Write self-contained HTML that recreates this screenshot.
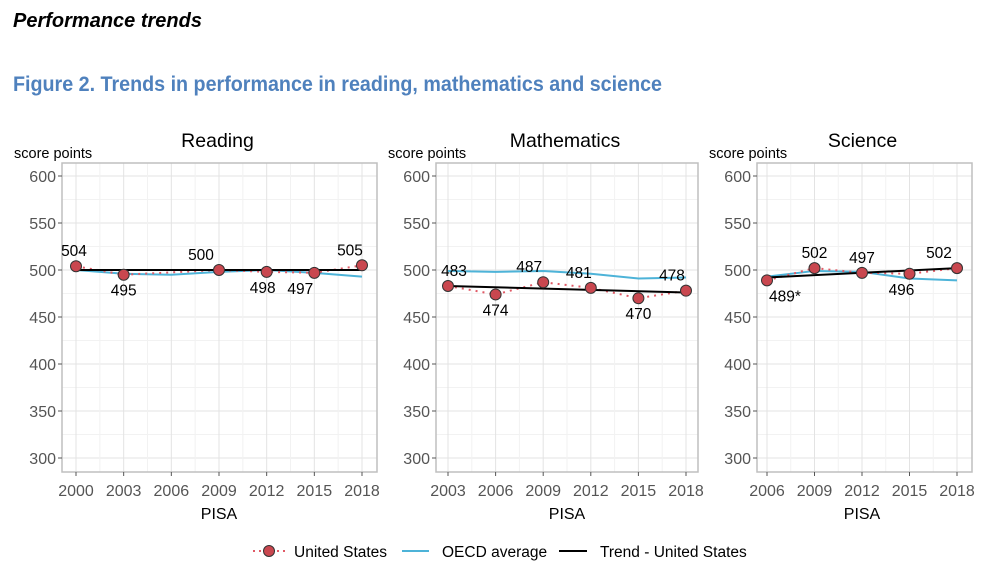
<!DOCTYPE html>
<html><head><meta charset="utf-8"><style>
body{margin:0;background:#fff;}
svg{display:block;font-family:"Liberation Sans",Arial,sans-serif;}
</style></head><body>
<svg id="c" width="1006" height="583" viewBox="0 0 1006 583">
<text x="13" y="27" font-size="20" font-weight="bold" font-style="italic" fill="#000">Performance trends</text>
<text x="13" y="91" font-size="21" font-weight="bold" fill="#4f81bd" textLength="649" lengthAdjust="spacingAndGlyphs">Figure 2. Trends in performance in reading, mathematics and science</text>
<g id="panels"></g>
<g>
<g>
<line x1="253" y1="551" x2="285" y2="551" stroke="#e05a66" stroke-width="2" stroke-dasharray="2,4"/>
<circle cx="269" cy="551" r="5.5" fill="#c9474f" stroke="#333" stroke-width="1"/>
<text x="294" y="557" font-size="15.5">United States</text></g>
<g>
<line x1="402" y1="551" x2="429" y2="551" stroke="#4db3d8" stroke-width="2"/>
<text x="442" y="557" font-size="15.5">OECD average</text></g>
<g>
<line x1="559" y1="551" x2="587" y2="551" stroke="#000" stroke-width="2"/>
<text x="600" y="557" font-size="15.5">Trend - United States</text></g>
</g>
</svg>
<script>
const readingYears=[2000,2003,2006,2009,2012,2015,2018];
const readingUS=[504,495,null,500,498,497,505];
const readingOECD=[500,496,495,498,500,497,493];
const readingTrend=[500,500];
const readingLabels=["504","495","","500","498","497","505"];
const mathYears=[2003,2006,2009,2012,2015,2018];
const mathUS=[483,474,487,481,470,478];
const mathOECD=[499,498,499,496,491,492];
const mathTrend=[483,476];
const mathLabels=["483","474","487","481","470","478"];
const sciYears=[2006,2009,2012,2015,2018];
const sciUS=[489,502,497,496,502];
const sciOECD=[493,499,498,491,489];
const sciTrend=[492,502];
const sciLabels=["489*","502","497","496","502"];
const yTicks=[300,350,400,450,500,550,600];

const NS="http://www.w3.org/2000/svg";
const root=document.getElementById('panels');
function mk(tag,attrs,parent){const e=document.createElementNS(NS,tag);for(const k in attrs)e.setAttribute(k,attrs[k]);parent.appendChild(e);return e;}

const panels=[
 {name:'reading',title:'Reading',years:readingYears,us:readingUS,oecd:readingOECD,trend:readingTrend,labels:readingLabels,
  box:[62,163,377,472],x0:76,x1:362,off:[[-2,-10],[0,21],[0,0],[-18,-10],[-4,21],[-14,21],[-12,-10]]},
 {name:'mathematics',title:'Mathematics',years:mathYears,us:mathUS,oecd:mathOECD,trend:mathTrend,labels:mathLabels,
  box:[436,163,698,472],x0:448,x1:686,off:[[6,-10],[0,21],[-14,-10],[-12,-10],[0,21],[-14,-10]]},
 {name:'science',title:'Science',years:sciYears,us:sciUS,oecd:sciOECD,trend:sciTrend,labels:sciLabels,
  box:[757,163,972,472],x0:767,x1:957,off:[[18,21],[0,-10],[0,-10],[-8,21],[-18,-10]]}
];
const y=v=>176+(600-v)*47/50;

panels.forEach(p=>{
 const g=mk('g',{},root);
 
 
 const [bx0,by0,bx1,by1]=p.box;
 const ya=p.years[0], yb=p.years[p.years.length-1];
 const x=v=>p.x0+(v-ya)*(p.x1-p.x0)/(yb-ya);
 const t=mk('text',{x:(bx0+bx1)/2-2,y:147,'font-size':19.5,'text-anchor':'middle'},g);t.textContent=p.title;
 
 
 const yl=mk('text',{x:bx0-48,y:158,'font-size':14.5},g);yl.textContent='score points';
 
 
 for(let v=275;v<=625;v+=25){const yy=y(v);if(yy>by0&&yy<by1)mk('line',{x1:bx0,x2:bx1,y1:yy,y2:yy,stroke:v%50?'#f2f2f2':'#e3e3e3','stroke-width':1},g);}
 for(let yr=ya;yr<=yb;yr+=1.5){const xx=x(yr);mk('line',{x1:xx,x2:xx,y1:by0,y2:by1,stroke:((yr-ya)%3)?'#f2f2f2':'#e3e3e3','stroke-width':1},g);}
 mk('rect',{x:bx0,y:by0,width:bx1-bx0,height:by1-by0,fill:'none',stroke:'#bfbfbf','stroke-width':1.5},g);
 yTicks.forEach(v=>{mk('line',{x1:bx0-4,x2:bx0,y1:y(v),y2:y(v),stroke:'#555'},g);
  const tx=mk('text',{x:bx0-6,y:y(v)+6,'font-size':16,'text-anchor':'end',fill:'#555'},g);tx.textContent=v;
  
  });
 p.years.forEach(yr=>{mk('line',{x1:x(yr),x2:x(yr),y1:by1,y2:by1+4,stroke:'#555'},g);
  const tx=mk('text',{x:x(yr),y:by1+24,'font-size':16,'text-anchor':'middle',fill:'#555'},g);tx.textContent=yr;
  
  });
 const xl=mk('text',{x:(p.x0+p.x1)/2,y:by1+47,'font-size':16,'text-anchor':'middle'},g);xl.textContent='PISA';
 
 
 const oe=mk('polyline',{points:p.years.map((yr,i)=>x(yr)+','+y(p.oecd[i])).join(' '),fill:'none',stroke:'#4db3d8','stroke-width':2},g);
 
 
 const usPts=p.years.map((yr,i)=>p.us[i]==null?null:[x(yr),y(p.us[i])]).filter(a=>a);
 const ul=mk('polyline',{points:usPts.map(a=>a.join(',')).join(' '),fill:'none',stroke:'#e05a66','stroke-width':2,'stroke-dasharray':'2,5'},g);
 
 
 const tr=mk('line',{x1:x(ya),y1:y(p.trend[0]),x2:x(yb),y2:y(p.trend[1]),stroke:'#000','stroke-width':2},g);
 
 
 p.years.forEach((yr,i)=>{if(p.us[i]==null)return;
  const c=mk('circle',{cx:x(yr),cy:y(p.us[i]),r:5.5,fill:'#c9474f',stroke:'#333','stroke-width':1},g);
  
  
  const o=p.off[i];
  const l=mk('text',{x:x(yr)+o[0],y:y(p.us[i])+o[1],'font-size':15.5,'text-anchor':'middle'},g);l.textContent=p.labels[i];
  
  });
});
</script>
</body></html>
